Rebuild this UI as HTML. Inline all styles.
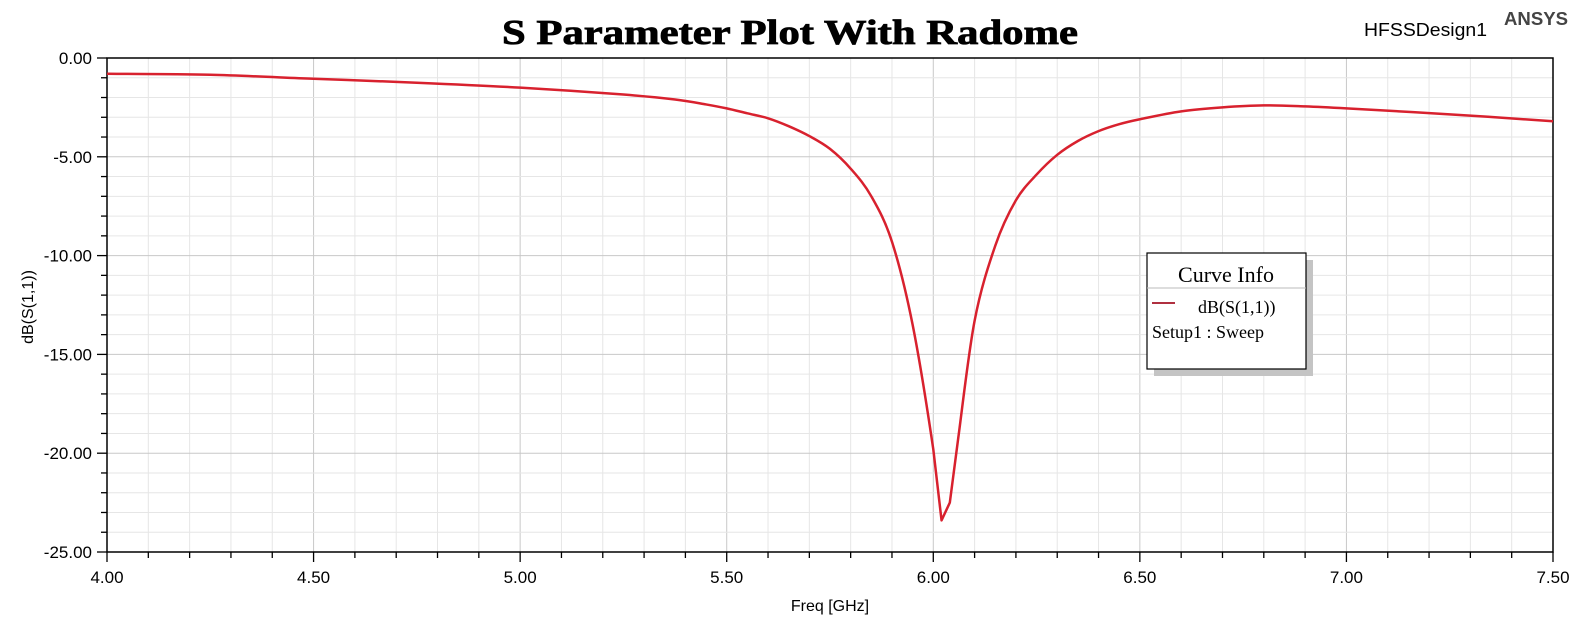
<!DOCTYPE html>
<html><head><meta charset="utf-8"><style>
html,body{margin:0;padding:0;background:#fff;}
svg{display:block;font-family:"Liberation Sans",Arial,sans-serif;}
</style></head><body>
<svg id="chart" width="1584" height="619" viewBox="0 0 1584 619">
<text x="790" y="44" text-anchor="middle" font-family="Liberation Serif,serif" font-weight="bold" font-size="35" textLength="576" lengthAdjust="spacingAndGlyphs" stroke="#000" stroke-width="0.8">S Parameter Plot With Radome</text>
<text x="1364" y="36" font-size="18" textLength="123" lengthAdjust="spacingAndGlyphs">HFSSDesign1</text>
<text x="1504" y="25" font-size="18" font-weight="bold" fill="#444" textLength="64" lengthAdjust="spacingAndGlyphs">ANSYS</text>
<g id="grid"></g>
<g id="axes"></g>
<g id="series"></g>
<text x="830" y="611" text-anchor="middle" font-size="16">Freq [GHz]</text>
<text transform="translate(33,307) rotate(-90)" text-anchor="middle" font-size="16">dB(S(1,1))</text>
<g>
<rect x="1154" y="260" width="159" height="116" fill="#c4c4c4"/>
<rect x="1147" y="253" width="159" height="116" fill="#fff" stroke="#000" stroke-width="1.2"/>
<text x="1226" y="282" text-anchor="middle" font-family="Liberation Serif,serif" font-size="22">Curve Info</text>
<line x1="1147" y1="288" x2="1306" y2="288" stroke="#bbb"/>
<line x1="1152" y1="303" x2="1175" y2="303" stroke="#b03040" stroke-width="2"/>
<text x="1198" y="313" font-family="Liberation Serif,serif" font-size="18">dB(S(1,1))</text>
<text x="1152" y="338" font-family="Liberation Serif,serif" font-size="18">Setup1 : Sweep</text>
</g>
</svg>
<script>
const freqs=[4.0,4.25,4.5,4.75,5.0,5.25,5.375,5.45,5.5,5.55,5.6,5.65,5.7,5.75,5.8,5.85,5.9,5.95,6.0,6.02,6.04,6.06,6.1,6.15,6.2,6.25,6.3,6.35,6.4,6.45,6.5,6.6,6.7,6.8,6.9,7.0,7.25,7.5];
const s11=[-0.8,-0.85,-1.05,-1.25,-1.5,-1.85,-2.1,-2.35,-2.55,-2.8,-3.05,-3.45,-3.95,-4.6,-5.6,-7.0,-9.3,-13.5,-19.8,-23.4,-22.5,-19.3,-13.3,-9.5,-7.2,-5.9,-4.9,-4.2,-3.7,-3.35,-3.1,-2.7,-2.5,-2.4,-2.45,-2.55,-2.85,-3.2];
const xTicks=["4.00","4.50","5.00","5.50","6.00","6.50","7.00","7.50"];
const yTicks=["0.00","-5.00","-10.00","-15.00","-20.00","-25.00"];
const X0=107,X1=1553,Y0=58,Y1=552,xmin=4,xmax=7.5,ymin=-25,ymax=0;
const sx=f=>X0+(f-xmin)/(xmax-xmin)*(X1-X0);
const sy=v=>Y0+(ymax-v)/(ymax-ymin)*(Y1-Y0);
const NS="http://www.w3.org/2000/svg";
function mk(tag,attrs,parent){const e=document.createElementNS(NS,tag);for(const k in attrs)e.setAttribute(k,attrs[k]);parent.appendChild(e);return e;}
const grid=document.getElementById('grid'),axes=document.getElementById('axes'),series=document.getElementById('series');
for(let i=0;i<=35;i++){const f=xmin+i*0.1;const x=sx(f);const major=i%5===0;
 if(i>0&&i<35){const g=mk('line',{x1:x,y1:Y0,x2:x,y2:Y1,stroke:major?'#c8c8c8':'#e6e6e6','stroke-width':1},grid);
 
 }
 const t=mk('line',{x1:x,y1:Y1,x2:x,y2:Y1+(major?10:6),stroke:'#000','stroke-width':1.3},axes);
 
 }
for(let i=0;i<=25;i++){const v=-i;const y=sy(v);const major=i%5===0;
 if(i>0&&i<25){const g=mk('line',{x1:X0,y1:y,x2:X1,y2:y,stroke:major?'#c8c8c8':'#e6e6e6','stroke-width':1},grid);
 
 }
 const t=mk('line',{x1:X0-(major?10:6),y1:y,x2:X0,y2:y,stroke:'#000','stroke-width':1.3},axes);
 
 }
xTicks.forEach(s=>{const t=mk('text',{x:sx(parseFloat(s)),y:583,'text-anchor':'middle','font-size':17},axes);t.textContent=s;
 
 });
yTicks.forEach(s=>{const t=mk('text',{x:92,y:sy(parseFloat(s))+6,'text-anchor':'end','font-size':17},axes);t.textContent=s;
 
 });
const frame=mk('rect',{x:X0,y:Y0,width:X1-X0,height:Y1-Y0,fill:'none',stroke:'#000','stroke-width':1.5},axes);


const pts=freqs.map((f,i)=>[sx(f),sy(s11[i])]);
let minIdx=0;s11.forEach((v,i)=>{if(v<s11[minIdx])minIdx=i;});
let d='M'+pts[0][0]+','+pts[0][1];
for(let i=0;i<pts.length-1;i++){
 const p0=pts[Math.max(0,i-1)],p1=pts[i],p2=pts[i+1],p3=pts[Math.min(pts.length-1,i+2)];
 const sharp=(i>=minIdx-1&&i<=minIdx+1);
 const k=sharp?0:1/6;
 d+=' C'+(p1[0]+(p2[0]-p0[0])*k)+','+(p1[1]+(p2[1]-p0[1])*k)+' '+(p2[0]-(p3[0]-p1[0])*k)+','+(p2[1]-(p3[1]-p1[1])*k)+' '+p2[0]+','+p2[1];
}
const line=mk('path',{d:d,fill:'none',stroke:'#d8212e','stroke-width':2.5,'stroke-linejoin':'round'},series);


</script>
</body></html>
